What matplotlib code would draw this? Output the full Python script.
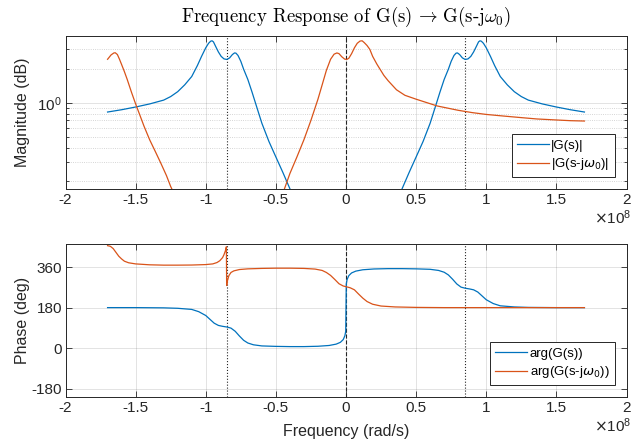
import numpy as np
import matplotlib
matplotlib.use("Agg")
import matplotlib.pyplot as plt
from matplotlib.ticker import NullFormatter, LogLocator

plt.rcParams['font.family'] = ['Liberation Sans', 'DejaVu Sans']
plt.rcParams['axes.unicode_minus'] = False
plt.rcParams['mathtext.fontset'] = 'dejavusans'

# frequencies in units of 1e8 rad/s
w0 = 0.85

# |G(s)|
mag_g_w = [-1.70, -1.60, -1.50, -1.40, -1.30, -1.25, -1.20, -1.15, -1.10, -1.06, -1.03,
           -1.00, -0.98, -0.965, -0.955, -0.945, -0.93, -0.91, -0.89, -0.87, -0.85,
           -0.83, -0.81, -0.795, -0.785, -0.77, -0.75, -0.73, -0.70, -0.67, -0.64,
           -0.60, -0.55, -0.50, -0.45, -0.40, -0.35, -0.30,
           0.30, 0.35, 0.40, 0.45, 0.50, 0.55, 0.60, 0.64, 0.67, 0.70, 0.73, 0.75,
           0.77, 0.785, 0.795, 0.81, 0.83, 0.85, 0.87, 0.89, 0.91, 0.93, 0.945,
           0.955, 0.965, 0.98, 1.00, 1.03, 1.06, 1.10, 1.15, 1.20, 1.25, 1.30,
           1.40, 1.50, 1.60, 1.70]
mag_g = [0.83, 0.87, 0.92, 0.98, 1.06, 1.14, 1.26, 1.45, 1.72, 2.15, 2.6,
         3.1, 3.4, 3.55, 3.58, 3.5, 3.2, 2.85, 2.6, 2.47, 2.44,
         2.52, 2.7, 2.79, 2.78, 2.65, 2.35, 2.0, 1.62, 1.25, 0.95,
         0.66, 0.455, 0.33, 0.24, 0.172, 0.12, 0.085,
         0.085, 0.12, 0.172, 0.24, 0.33, 0.455, 0.66, 0.95, 1.25, 1.62, 2.0, 2.35,
         2.65, 2.78, 2.79, 2.7, 2.52, 2.44, 2.47, 2.6, 2.85, 3.2, 3.5,
         3.58, 3.55, 3.4, 3.1, 2.6, 2.15, 1.72, 1.45, 1.26, 1.14, 1.06,
         0.98, 0.92, 0.87, 0.83]

# |G(s-jw0)|
mag_s_w = [-1.70, -1.675, -1.655, -1.645, -1.63, -1.615, -1.60, -1.58, -1.56, -1.53,
           -1.50, -1.47, -1.44, -1.40, -1.36, -1.32, -1.28, -1.25, -1.22,
           -0.46, -0.44, -0.40, -0.35, -0.30, -0.25, -0.20, -0.17, -0.14, -0.11,
           -0.085, -0.065, -0.05, -0.03, -0.01, 0.005, 0.02, 0.04, 0.06, 0.08,
           0.10, 0.115, 0.13, 0.15, 0.17, 0.19, 0.22, 0.27, 0.30, 0.36, 0.42,
           0.50, 0.65, 0.80, 0.90, 1.00, 1.12, 1.25, 1.36, 1.50, 1.60, 1.70]
mag_s = [2.45, 2.68, 2.79, 2.8, 2.7, 2.45, 2.2, 1.9, 1.62, 1.25,
         0.98, 0.78, 0.62, 0.47, 0.37, 0.29, 0.225, 0.18, 0.15,
         0.15, 0.17, 0.235, 0.33, 0.47, 0.70, 1.08, 1.45, 1.95, 2.45,
         2.72, 2.79, 2.75, 2.58, 2.46, 2.44, 2.5, 2.75, 3.1, 3.4,
         3.56, 3.58, 3.45, 3.25, 3.0, 2.6, 2.22, 1.76, 1.58, 1.31, 1.17,
         1.08, 0.94, 0.86, 0.82, 0.79, 0.765, 0.74, 0.72, 0.705, 0.695, 0.69]

# arg(G(s)) in degrees
ph_g_w = [-1.70, -1.50, -1.30, -1.20, -1.10, -1.05, -1.00, -0.97, -0.94, -0.91, -0.88,
          -0.85, -0.82, -0.79, -0.76, -0.73, -0.70, -0.66, -0.60, -0.50, -0.40,
          -0.30, -0.20, -0.12, -0.07, -0.04, -0.02, -0.008, -0.002, 0.0,
          0.002, 0.008, 0.02, 0.04, 0.07, 0.12, 0.20, 0.30, 0.40, 0.50, 0.60,
          0.66, 0.70, 0.73, 0.76, 0.79, 0.82, 0.85, 0.88, 0.91, 0.94, 0.97,
          1.00, 1.05, 1.10, 1.20, 1.30, 1.50, 1.70]
ph_g = [180, 180, 179, 177, 172, 162, 145, 128, 111, 101, 97,
        94, 89, 75, 54, 35, 23, 15, 10, 8, 7,
        7, 8.5, 12, 18, 26, 38, 55, 75, 180,
        285, 305, 322, 334, 342, 348, 351.5, 353, 353, 352, 350,
        345, 337, 325, 306, 285, 271, 266, 263, 259, 249, 232,
        215, 198, 188, 183, 181, 180, 180]

# arg(G(s-jw0)) in degrees
ph_s_w = [-1.70, -1.68, -1.66, -1.64, -1.62, -1.60, -1.58, -1.55, -1.50, -1.40,
          -1.30, -1.20, -1.10, -1.00, -0.95, -0.92, -0.90, -0.88, -0.87, -0.86,
          -0.853, -0.851, -0.845, -0.835, -0.82, -0.80, -0.76, -0.70, -0.60,
          -0.50, -0.40, -0.30, -0.22, -0.17, -0.14, -0.11, -0.08, -0.05, -0.02,
          0.00, 0.03, 0.06, 0.09, 0.12, 0.15, 0.19, 0.25, 0.35, 0.50, 0.70, 1.70]
ph_s = [455, 452, 442, 425, 408, 396, 386, 379, 374, 370,
        368.5, 368.5, 369, 371, 374, 380, 388, 402, 415, 432,
        450, 278, 300, 322, 336, 343, 349, 352, 354,
        355, 355, 354, 351, 345, 336, 323, 305, 286, 276,
        273, 268, 259, 240, 222, 207, 195, 187, 183, 181, 180, 180]

blue = '#0072BD'
red = '#D95319'
dark = '#262626'

fig = plt.figure(figsize=(6.32, 4.43), dpi=100)
W, H = 632, 443
ax1 = fig.add_axes([65.5 / W, 1 - 189.3 / H, 561 / W, 153.3 / H])
ax2 = fig.add_axes([65.5 / W, 1 - 397.3 / H, 561 / W, 153 / H])

ax1.plot(mag_g_w, mag_g, color=blue, lw=0.9, label='|G(s)|')
ax1.plot(mag_s_w, mag_s, color=red, lw=0.9, label=r'|G(s-j$\omega_0$)|')
ax1.set_yscale('log')
ax1.set_ylim(0.17, 3.95)
ax1.yaxis.set_minor_locator(LogLocator(base=10, subs=np.arange(2, 10)))
ax1.yaxis.set_minor_formatter(NullFormatter())
ax1.set_ylabel('Magnitude (dB)', fontsize=11.5, color=dark)

ax2.plot(ph_g_w, ph_g, color=blue, lw=0.9, label='arg(G(s))')
ax2.plot(ph_s_w, ph_s, color=red, lw=0.9, label=r'arg(G(s-j$\omega_0$))')
ax2.set_ylim(-218, 461)
ax2.set_yticks([-180, 0, 180, 360])
ax2.set_ylabel('Phase (deg)', fontsize=11.5, color=dark)
ax2.set_xlabel('Frequency (rad/s)', fontsize=11.5, color=dark, labelpad=7)

xt = [-2, -1.5, -1, -0.5, 0, 0.5, 1, 1.5, 2]
for ax in (ax1, ax2):
    for xv, ls in ((-w0, ':'), (0, '--'), (w0, ':')):
        ax.axvline(xv, color=dark, ls=ls, lw=0.8, zorder=1.5)
    ax.set_xlim(-2, 2)
    ax.set_xticks(xt)
    ax.set_xticklabels(['%g' % v for v in xt])
    ax.tick_params(which='both', direction='in', top=True, right=True,
                   colors=dark, labelsize=11, width=0.6, pad=2.5)
    ax.tick_params(which='major', length=4)
    ax.tick_params(which='minor', length=2)
    ax.grid(True, which='major', color=dark, alpha=0.15, lw=0.6)
    for s in ax.spines.values():
        s.set_color(dark)
        s.set_linewidth(0.7)
    ax.yaxis.set_label_coords(-0.063, 0.5)
    ax.text(1.008, -0.125, r'$\times\mathdefault{10^{8}}$', transform=ax.transAxes,
            ha='right', va='top', fontsize=11, color=dark)
    leg = ax.legend(loc='lower right', fontsize=9.5, fancybox=False, framealpha=1,
                    edgecolor=dark, handlelength=2.4, handletextpad=0.2,
                    labelspacing=0.35, borderpad=0.4, borderaxespad=0.9)
    leg.get_frame().set_linewidth(0.7)

ax1.grid(True, which='minor', axis='y', color=dark, alpha=0.25, lw=0.6, ls=':')

ax1.set_title(r'Frequency Response of G(s)$\,\rightarrow\,$G(s-j$\omega_0$)',
              fontfamily='cmr10', math_fontfamily='cm', fontsize=13.5, pad=10)

fig.savefig('out.png', dpi=100)
